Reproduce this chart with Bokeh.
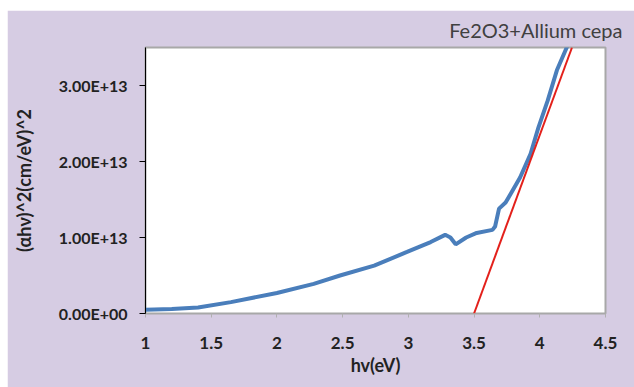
from bokeh.plotting import figure
from bokeh.models import FixedTicker, Range1d
from bokeh.embed import file_html
from bokeh.resources import INLINE

# ---- data ----
hv = [1.00, 1.20, 1.40, 1.65, 2.00, 2.28, 2.48, 2.74, 2.99, 3.17, 3.28, 3.32, 3.36,
      3.44, 3.52, 3.64, 3.66, 3.69, 3.74, 3.78, 3.85, 3.93, 3.99, 4.06, 4.13, 4.20, 4.23]
ahv2 = [0.05e13, 0.06e13, 0.08e13, 0.15e13, 0.27e13, 0.39e13, 0.50e13, 0.63e13, 0.81e13,
        0.94e13, 1.035e13, 1.00e13, 0.91e13, 1.00e13, 1.06e13, 1.10e13, 1.145e13, 1.38e13,
        1.46e13, 1.58e13, 1.79e13, 2.10e13, 2.45e13, 2.80e13, 3.20e13, 3.48e13, 3.60e13]
fit_x = [3.50, 4.245]
fit_y = [0.0, 3.50e13]

x_ticks = [1, 1.5, 2, 2.5, 3, 3.5, 4, 4.5]
x_tick_labels = ["1", "1.5", "2", "2.5", "3", "3.5", "4", "4.5"]
y_ticks = [0, 1e13, 2e13, 3e13]
y_tick_labels = ["0.00E+00", "1.00E+13", "2.00E+13", "3.00E+13"]

title_text = "Fe2O3+Allium cepa"
x_label = "hv(eV)"
y_label = "(αhν)^2(cm/eV)^2"

LAV = "#d6cce3"
TXT = "#222222"
FONT = "Lato"

p = figure(width=627, height=377, output_backend="svg", toolbar_location=None,
           x_range=Range1d(1, 4.5), y_range=Range1d(0, 3.5e13),
           min_border_left=138, min_border_right=29, min_border_top=37, min_border_bottom=74)
p.margin = (10, 0, 0, 7)
p.border_fill_color = LAV
p.background_fill_color = "white"
p.outline_line_color = "#a8a8a8"
p.outline_line_width = 2
p.xgrid.visible = False
p.ygrid.visible = False

p.title.text = title_text
p.title.align = "right"
p.title.offset = -17
p.title.standoff = 11
p.title.text_font = FONT
p.title.text_font_size = "20px"
p.title.text_font_style = "normal"
p.title.text_color = "#404040"

p.line(hv, ahv2, line_color="#4a7ebb", line_width=4)
p.line(fit_x, fit_y, line_color="#e3201b", line_width=2)

xa = p.xaxis[0]
xa.ticker = FixedTicker(ticks=x_ticks)
xa.major_label_overrides = {t: l for t, l in zip(x_ticks, x_tick_labels)}
xa.axis_line_color = None
xa.major_tick_line_color = "#b0b0b0"
xa.major_tick_out = 4
xa.major_tick_in = 0
xa.minor_tick_line_color = None
xa.major_label_text_font = FONT
xa.major_label_text_font_style = "bold"
xa.major_label_text_font_size = "17px"
xa.major_label_text_color = TXT
xa.major_label_standoff = 19
xa.axis_label = x_label
xa.axis_label_text_font = FONT
xa.axis_label_text_font_style = "bold"
xa.axis_label_text_font_size = "18px"
xa.axis_label_text_color = TXT
xa.axis_label_standoff = 2

ya = p.yaxis[0]
ya.ticker = FixedTicker(ticks=y_ticks)
ya.major_label_overrides = {t: l for t, l in zip(y_ticks, y_tick_labels)}
ya.axis_line_color = "black"
ya.axis_line_width = 1
ya.major_tick_line_color = "black"
ya.major_tick_out = 6
ya.major_tick_in = 0
ya.minor_tick_line_color = None
ya.major_label_text_font = FONT
ya.major_label_text_font_style = "bold"
ya.major_label_text_font_size = "16px"
ya.major_label_text_color = TXT
ya.major_label_standoff = 12
ya.axis_label = y_label
ya.axis_label_text_font = FONT
ya.axis_label_text_font_style = "bold"
ya.axis_label_text_font_size = "18px"
ya.axis_label_text_color = TXT
ya.axis_label_standoff = 21

open("out.html", "w").write(file_html(p, INLINE))
